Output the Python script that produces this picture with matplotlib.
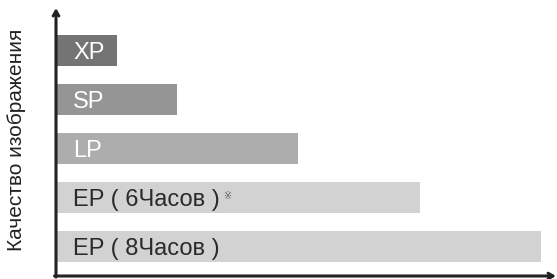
import matplotlib
import matplotlib.pyplot as plt

matplotlib.use("Agg")

# recording modes, top to bottom, and relative recording time (hours)
modes = ["XP", "SP", "LP", "EP ( 6Часов )", "EP ( 8Часов )"]
hours = [1, 2, 4, 6, 8]
bar_colors = ["#747474", "#959595", "#adadad", "#d2d2d2", "#d2d2d2"]
text_colors = ["white", "white", "white", "#2a2a2a", "#2a2a2a"]
note_mode = "EP ( 6Часов )"
ylabel = "Качество изображения"

plt.rcParams["font.family"] = ["Liberation Sans", "DejaVu Sans"]

fig = plt.figure(figsize=(5.57, 2.79), dpi=100)
ax = fig.add_axes([56 / 557, 3 / 279, 500 / 557, 268 / 279])

ypos = list(range(len(modes)))[::-1]
ax.barh(ypos, hours, height=0.64, color=bar_colors, left=0)

for y, label, tc in zip(ypos, modes, text_colors):
    t = ax.annotate(label, xy=(0, y), xytext=(17, 0), textcoords="offset pixels",
                    va="center_baseline", ha="left", fontsize=17, color=tc)
    if label == note_mode:
        ax.annotate("※", xy=(1, 1), xycoords=t, xytext=(3, -2),
                    textcoords="offset pixels", ha="left", va="top",
                    fontsize=7, color="#555555", family=["DejaVu Sans"])

ax.set_xlim(0, 8.25)
ax.set_ylim(-0.6, 4.87)

for s in ax.spines.values():
    s.set_visible(False)
ax.set_xticks([])
ax.set_yticks([])

# axes with arrow heads
arrow = dict(arrowstyle="->,head_length=0.35,head_width=0.2", lw=2.2, color="#222222",
             shrinkA=0, shrinkB=0)
ax.annotate("", xy=(0, 1.0), xycoords="axes fraction", xytext=(0, -0.004),
            arrowprops=arrow)
ax.annotate("", xy=(1.0, 0), xycoords="axes fraction", xytext=(-0.003, 0),
            arrowprops=arrow)

fig.text(17 / 557, 1 - 140 / 279, ylabel, rotation=90, ha="center", va="center",
         fontsize=15, color="#222222")

fig.savefig("out.png", dpi=100)
